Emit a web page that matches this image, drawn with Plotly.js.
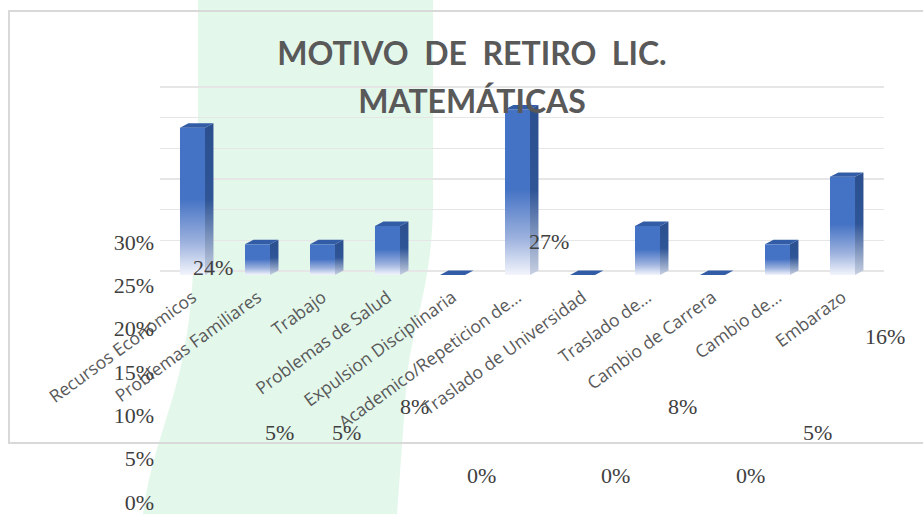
<!DOCTYPE html>
<html>
<head>
<meta charset="utf-8">
<script src="https://cdn.plot.ly/plotly-3.0.1.min.js"></script>
<style>html,body{margin:0;padding:0;background:#fff;}#chart{width:923px;height:514px;}</style>
</head>
<body>
<div id="chart"></div>
<script>
// ---- data ----
const categories = ['Recursos Economicos','Problemas Familiares','Trabajo','Problemas de Salud','Expulsion Disciplinaria','Academico/Repeticion de…','Traslado de Universidad','Traslado de…','Cambio de Carrera','Cambio de…','Embarazo'];
const percents = [24, 5, 5, 8, 0, 27, 0, 8, 0, 5, 16];
const axisTicks = [0, 5, 10, 15, 20, 25, 30];
const axisTickLabels = ['0%', '5%', '10%', '15%', '20%', '25%', '30%'];
const titleLines = ['MOTIVO\u00a0 DE\u00a0 RETIRO\u00a0 LIC.', 'MATEMÁTICAS'];

// ---- geometry helpers (layout only) ----
const W = 923, H = 514;
const px = x => x / W;
const py = y => 1 - y / H;
const idx = categories.map((_, i) => i);
const HW = 0.1925;   // half width of front face (category units)
const DX = 0.13;     // depth offset x (category units)
const DY = 0.73;     // depth offset y (value units)

const traces = [];
// gridline carrier (back wall)
traces.push({type:'scatter', x:[null], y:[null], xaxis:'x', yaxis:'y', hoverinfo:'skip', showlegend:false});
// front faces
traces.push({type:'bar', x: idx, y: percents, xaxis:'x2', yaxis:'y2', width: 2*HW,
  marker:{color:'#4472C4', line:{width:0}}, hoverinfo:'skip', showlegend:false});
// side faces
idx.forEach(i => {
  const v = percents[i];
  if (v <= 0) return;
  traces.push({type:'scatter', mode:'lines', xaxis:'x2', yaxis:'y2', hoverinfo:'skip', showlegend:false,
    x:[i+HW, i+HW+DX, i+HW+DX, i+HW, i+HW], y:[0, DY, v+DY, v, 0],
    line:{width:0}, fill:'toself',
    fillgradient:{type:'vertical', colorscale:[[0,'#c9d1e2'],[0.5,'#2F5597'],[1,'#2B4F8E']]}});
});
// top faces
const tx = [], ty = [];
idx.forEach(i => {
  const v = percents[i];
  tx.push(i-HW, i+HW, i+HW+DX, i-HW+DX, i-HW, null);
  ty.push(v, v, v+DY, v+DY, v, null);
});
traces.push({type:'scatter', mode:'lines', x: tx, y: ty, xaxis:'x2', yaxis:'y2', fill:'toself',
  fillcolor:'#325CA6', line:{width:0}, hoverinfo:'skip', showlegend:false, connectgaps:false});
// ghost label axis carrier
traces.push({type:'scatter', x:[null], y:[null], xaxis:'x3', yaxis:'y3', hoverinfo:'skip', showlegend:false});

const labelFont = {family:'Liberation Serif, Times New Roman, serif', size:22, color:'#404040'};
const annotations = idx.map(i => ({
  xref:'x3', yref:'y3', x:i, y:percents[i], text: percents[i] + '%', showarrow:false,
  yshift: 26.5, font: labelFont
}));

// green band behind everything
const P = (x, y) => px(x).toFixed(5) + ',' + py(y).toFixed(5);
const bandPath = 'M' + P(198,0) + ' L' + P(433,0) + ' L' + P(433,200) +
  ' C' + P(433,290) + ' ' + P(409,330) + ' ' + P(406,390) +
  ' L' + P(397,514) + ' L' + P(143,514) +
  ' C' + P(150,460) + ' ' + P(168,420) + ' ' + P(180,370) +
  ' C' + P(192,320) + ' ' + P(196,260) + ' ' + P(198,120) + ' Z';

// back-wall grid mapping: 0% at y=271, 30% at y=87 (padded so edge gridlines are kept)
const gridPer = (271 - 87) / 30, gridPad = 0.6;
// ghost axis mapping: 0% at y=502, 30% at y=242
const gPer = (502 - 242) / 30, gPad = 0.4;

const layout = {
  width: W, height: H,
  margin:{l:0, r:0, t:0, b:0, pad:0},
  paper_bgcolor:'#ffffff', plot_bgcolor:'rgba(0,0,0,0)',
  showlegend:false,
  title:{
    text: titleLines.map(t => "<span style='font-size:32px'>" + t + "</span>").join('<br>'),
    font:{family:'Lato, Open Sans, sans-serif', size:37, color:'#595959', weight:'bold'},
    xref:'container', yref:'container', x: px(472), xanchor:'center', y: py(65), yanchor:'top'
  },
  xaxis:{domain:[px(160), px(884)], range:[0,1], showticklabels:false, showgrid:false, zeroline:false, showline:false, ticks:'', fixedrange:true},
  yaxis:{domain:[py(271 + gridPad*gridPer), py(87 - gridPad*gridPer)], range:[-gridPad, 30 + gridPad], tickmode:'array', tickvals: axisTicks,
    showgrid:true, gridcolor:'#E6E6E6', gridwidth:1.5,
    showticklabels:false, zeroline:false, showline:false, ticks:'', fixedrange:true},
  xaxis2:{domain:[px(160), px(875)], range:[-0.5,10.5], anchor:'y2', tickmode:'array', tickvals: idx, ticktext: categories,
    tickangle:-36, tickfont:{family:'Open Sans, sans-serif', size:17.5, color:'#595959'}, ticklabelstandoff: 8,
    showgrid:false, zeroline:false, showline:false, ticks:'', fixedrange:true},
  yaxis2:{domain:[py(275), py(91)], range:[0,30], anchor:'x2', visible:false, fixedrange:true},
  xaxis3:{domain:[px(178.9), px(918.1)], range:[-0.5,10.5], anchor:'y3', visible:false, fixedrange:true},
  yaxis3:{domain:[py(502 + gPad*gPer), py(242 - gPad*gPer)], range:[-gPad, 30 + gPad], anchor:'free', position: px(154), tickmode:'array',
    tickvals: axisTicks, ticktext: axisTickLabels, tickfont: labelFont, ticklabeloverflow:'allow',
    showgrid:false, zeroline:false, showline:false, ticks:'', fixedrange:true},
  shapes:[
    {type:'path', xref:'paper', yref:'paper', path: bandPath, fillcolor:'#E3F7EB', line:{width:0}, layer:'below'},
    {type:'rect', xref:'paper', yref:'paper', x0:px(9), x1:px(940), y0:py(443), y1:py(11),
      line:{color:'#D9D9D9', width:2}, fillcolor:'rgba(0,0,0,0)', layer:'below'}
  ],
  annotations: annotations
};

Plotly.newPlot('chart', traces, layout, {staticPlot:true, displayModeBar:false}).then(gd => {
  const ns = 'http://www.w3.org/2000/svg';
  const svg = gd.querySelector('.main-svg');
  let defs = svg.querySelector('defs');
  if (!defs) { defs = document.createElementNS(ns, 'defs'); svg.insertBefore(defs, svg.firstChild); }
  const lg = document.createElementNS(ns, 'linearGradient');
  lg.setAttribute('id', 'frontFade');
  lg.setAttribute('x1', '0'); lg.setAttribute('y1', '0'); lg.setAttribute('x2', '0'); lg.setAttribute('y2', '1');
  [['0', '#4472C4'], ['0.48', '#4472C4'], ['0.78', '#9DB2DE'], ['1', '#F3F5FC']].forEach(s => {
    const st = document.createElementNS(ns, 'stop');
    st.setAttribute('offset', s[0]); st.setAttribute('stop-color', s[1]);
    lg.appendChild(st);
  });
  defs.appendChild(lg);
  gd.querySelectorAll('.barlayer .trace.bars .point path').forEach(p => { p.style.fill = 'url(#frontFade)'; });
});
</script>
</body>
</html>
